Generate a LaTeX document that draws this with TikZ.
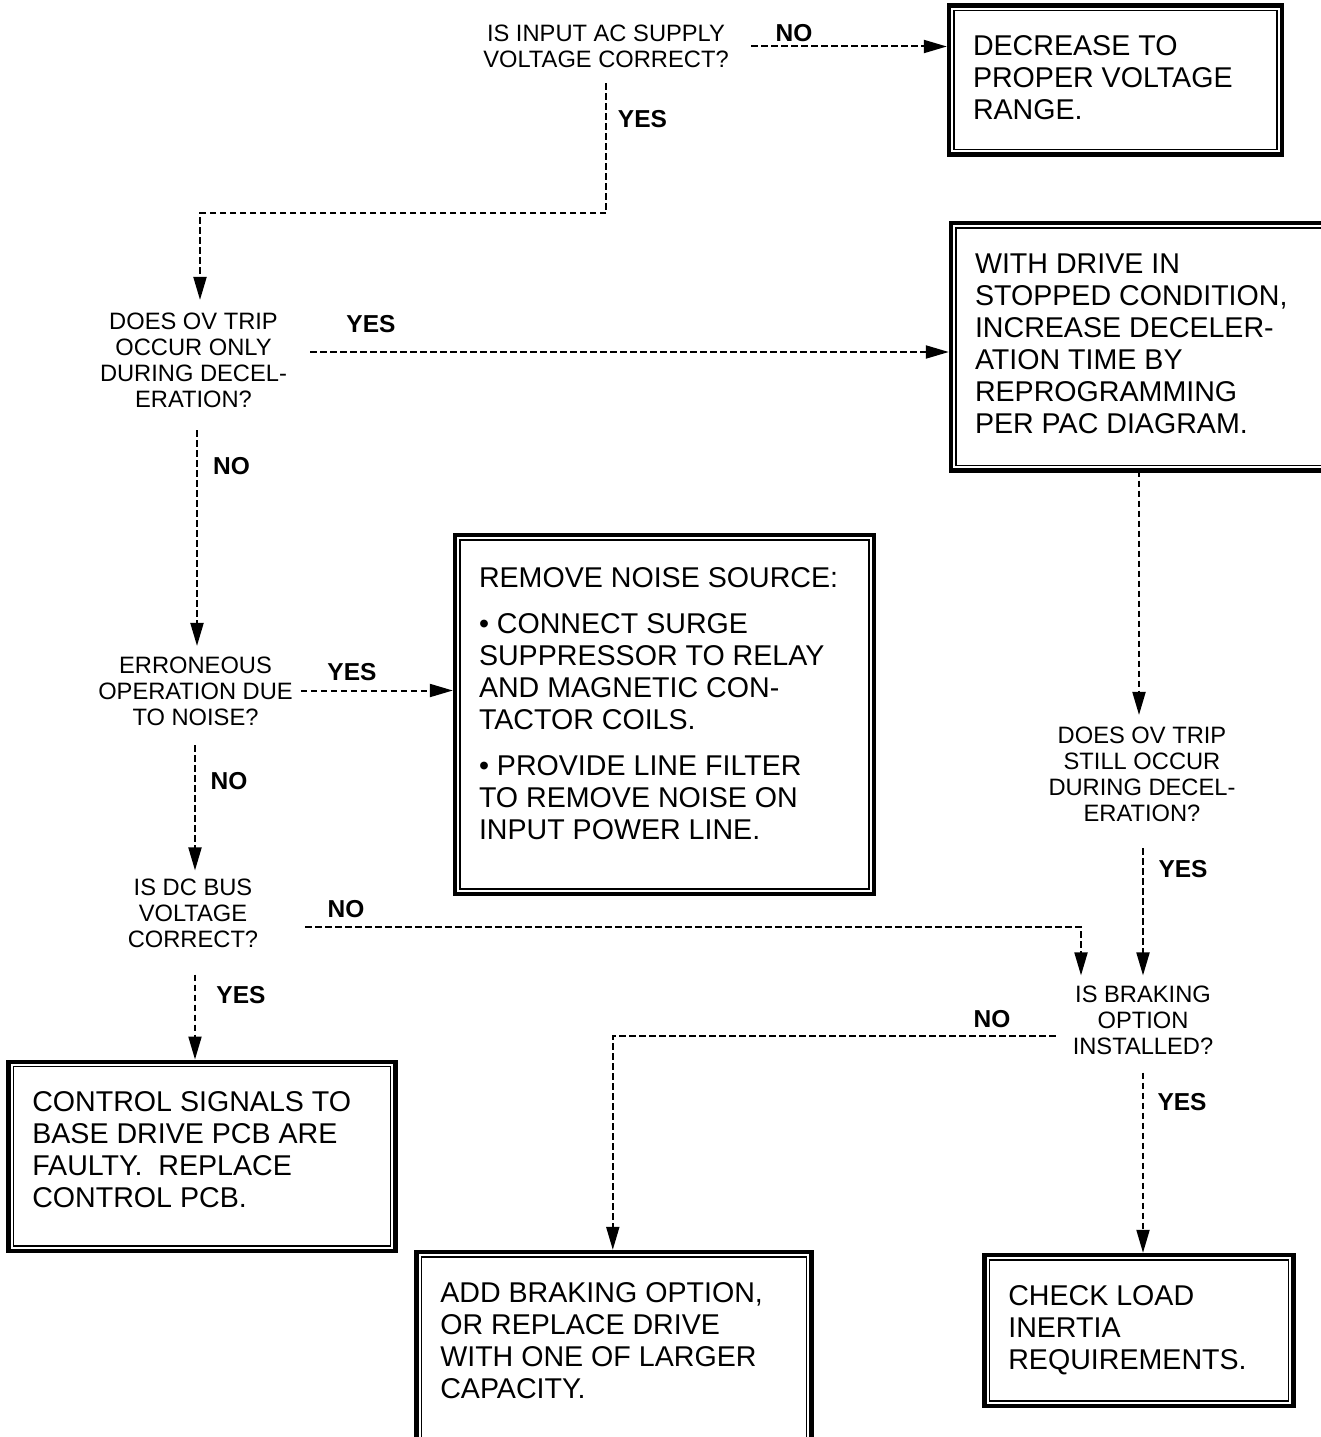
\documentclass[tikz,border=0pt]{standalone}
\usepackage{fontspec}
\setmainfont{Liberation Sans}
\usetikzlibrary{arrows.meta,calc}

\newcommand\boxfont{\fontsize{28.6pt}{32pt}\selectfont}
\newcommand\askfont{\fontsize{23.7pt}{26pt}\selectfont}
\newcommand\ansfont{\fontsize{24.5pt}{26pt}\selectfont\bfseries}

\begin{document}
\begin{tikzpicture}[x=1pt,y=-1pt,
  frame/.style={draw, line width=4.4pt, outer sep=0pt, inner xsep=24pt,
    inner ysep=0pt, text height=50pt, anchor=north west, font=\boxfont},
  innerline/.style={line width=1.3pt},
  ask/.style={align=center, inner sep=0pt, font=\askfont},
  ans/.style={inner sep=0pt, font=\ansfont},
  flow/.style={dash pattern=on 6.5pt off 3.5pt, line width=2pt,
    -{Triangle[length=23pt,width=13pt]}}]

\useasboundingbox (0,0) rectangle (1321,1437);
\clip (0,0) rectangle (1321,1437);

% action boxes (double frame: heavy outside, light inside)
\node[frame, text depth=99pt] (b1) at (949,5.5)
  {\parbox[t]{285pt}{DECREASE TO\\PROPER VOLTAGE\\RANGE.}};
\node[frame, text depth=197.5pt] (b2) at (951,223)
  {\parbox[t]{332pt}{WITH DRIVE IN\\STOPPED CONDITION,\\INCREASE DECELER-\\ATION TIME BY\\REPROGRAMMING\\PER PAC DIAGRAM.}};
\node[frame, text height=52.5pt, text depth=306.5pt] (b3) at (455,535)
  {\parbox[t]{371pt}{REMOVE NOISE SOURCE:\par\vspace{14pt}
   \textbullet\ CONNECT SURGE\\SUPPRESSOR TO RELAY\\AND MAGNETIC CON-\\TACTOR COILS.\par\vspace{14pt}
   \textbullet\ PROVIDE LINE FILTER\\TO REMOVE NOISE ON\\INPUT POWER LINE.}};
\node[frame, text depth=139.3pt] (b4) at (8.3,1061.7)
  {\parbox[t]{339pt}{CONTROL SIGNALS TO\\BASE DRIVE PCB ARE\\FAULTY.\ \ REPLACE\\CONTROL PCB.}};
\node[frame, text depth=158pt] (b5) at (416.3,1252)
  {\parbox[t]{347pt}{ADD BRAKING OPTION,\\OR REPLACE DRIVE\\WITH ONE OF LARGER\\CAPACITY.}};
\node[frame, text depth=101pt] (b6) at (984.3,1255)
  {\parbox[t]{261pt}{CHECK LOAD\\INERTIA\\REQUIREMENTS.}};

\foreach \b in {b1,b2,b3,b4,b5,b6}
  \draw[innerline] ([xshift=5pt,yshift=5pt]\b.south west)
    rectangle ([xshift=-5pt,yshift=-5pt]\b.north east);

% questions
\node[ask] (d1) at (606,46.5) {IS INPUT AC SUPPLY\\VOLTAGE CORRECT?};
\node[ask] (d2) at (193.5,360.5) {DOES OV TRIP\\OCCUR ONLY\\DURING DECEL-\\ERATION?};
\node[ask] (d3) at (195.5,691.5) {ERRONEOUS\\OPERATION DUE\\TO NOISE?};
\node[ask] (d4) at (193,913) {IS DC BUS\\VOLTAGE\\CORRECT?};
\node[ask] (d5) at (1142,774) {DOES OV TRIP\\STILL OCCUR\\DURING DECEL-\\ERATION?};
\node[ask] (d6) at (1143,1020) {IS BRAKING\\OPTION\\INSTALLED?};

% answers
\node[ans] (no1)  at (794,33.3)   {NO};
\node[ans] (yes1) at (642.5,119)  {YES};
\node[ans] (yes2) at (371,324.5)  {YES};
\node[ans] (no2)  at (231.5,466)  {NO};
\node[ans] (yes3) at (352,672)    {YES};
\node[ans] (no3)  at (229,781)    {NO};
\node[ans] (no4)  at (346,909)    {NO};
\node[ans] (yes4) at (241,995)    {YES};
\node[ans] (yes5) at (1183,869)   {YES};
\node[ans] (no5)  at (992,1019)   {NO};
\node[ans] (yes6) at (1182,1102.5){YES};

% connectors
\draw[flow] ([xshift=22.5pt]d1.east) -- ($(d1.east -| b1.west)+(-2.2,0)$);
\draw[flow] ([yshift=-15pt]d1.south) -- ($(d1.south)+(0,145)$)
  -| ($(d2.north)+(6.5,-13)$);
\draw[flow] ([xshift=23pt,yshift=8.5pt]d2.east) -- ($(d2.east -| b2.west)+(-2.2,-8.5)$);
\draw[flow] ([xshift=3.5pt,yshift=-22pt]d2.south) -- ($(d3.north)+(1.5,-11)$);
\draw[flow] ([xshift=8pt,yshift=1pt]d3.east) -- ($(d3.east -| b3.west)+(-2.2,-1)$);
\draw[flow] ([xshift=-0.5pt,yshift=-19pt]d3.south) -- ($(d4.north)+(2,-8)$);
\draw[flow] ([xshift=47pt,yshift=-14pt]d4.east) -| ($(d6.north)+(-62,-10)$);
\draw[flow] ($(d5.north |- b2.south)+(-3,0)$) -- ($(d5.north)+(-3,-11.5)$);
\draw[flow] ([xshift=1pt,yshift=-26.5pt]d5.south) -- ($(d6.north)+(0,-10)$);
\draw[flow] ([xshift=-17pt,yshift=-16pt]d6.west) -| ($(b5.north)+(-1,-2.2)$);
\draw[flow] ([yshift=-18pt]d6.south) -- ($(d6.south |- b6.north)+(0,-2.2)$);
\draw[flow] ([xshift=2pt,yshift=-27pt]d4.south) -- ($(d4.south |- b4.north)+(2,-2.2)$);
\end{tikzpicture}
\end{document}
